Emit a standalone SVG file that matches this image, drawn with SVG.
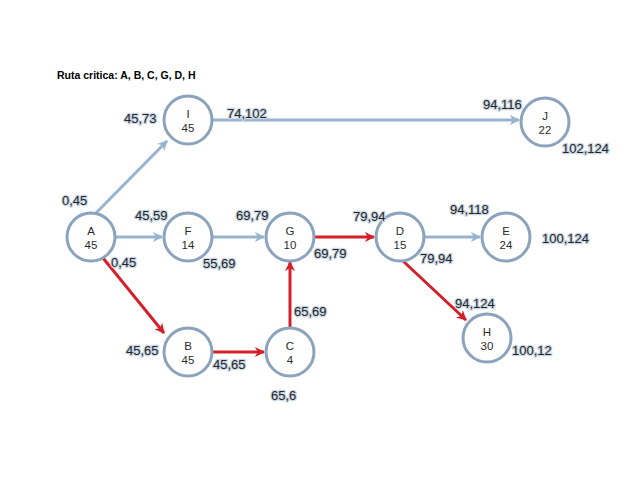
<svg xmlns="http://www.w3.org/2000/svg" width="638" height="493" viewBox="0 0 638 493">
<defs>
<marker id="ab" viewBox="0 0 10 10" refX="9" refY="5" markerWidth="3.4" markerHeight="3.4" orient="auto" markerUnits="strokeWidth">
<path d="M0,0 L10,5 L0,10 L3,5 Z" fill="#98b3ce"/>
</marker>
<marker id="ar" viewBox="0 0 10 10" refX="9" refY="5" markerWidth="3.4" markerHeight="3.4" orient="auto" markerUnits="strokeWidth">
<path d="M0,0 L10,5 L0,10 L3,5 Z" fill="#d4202a"/>
</marker>
</defs>
<style>
.bg{fill:#ffffff}
.n circle{fill:#ffffff;stroke:#8ba3bc;stroke-width:3}
.n text{font-family:"Liberation Sans",Arial,sans-serif;font-size:11.5px;fill:#2b2b2b;text-anchor:middle}
.lb{font-family:"Liberation Sans",Arial,sans-serif;font-size:13px;fill:#262626;stroke:#c9d6e4;stroke-width:2.5;paint-order:stroke;stroke-linejoin:round}
.title{font-family:"Liberation Sans",Arial,sans-serif;font-size:10.5px;font-weight:bold;fill:#000}
.eb{stroke:#98b3ce;stroke-width:3;fill:none;marker-end:url(#ab)}
.er{stroke:#d4202a;stroke-width:3;fill:none;marker-end:url(#ar)}
</style>
<rect class="bg" x="0" y="0" width="638" height="493"/>
<text class="title" x="57" y="79">Ruta critica: A, B, C, G, D, H</text>
<g id="connectors">
<line class="eb" x1="96" y1="213" x2="167" y2="141"/>
<line class="eb" x1="116" y1="237" x2="162" y2="237"/>
<line class="eb" x1="213" y1="237" x2="264" y2="237"/>
<line class="eb" x1="213" y1="120" x2="519" y2="120"/>
<line class="eb" x1="425" y1="237" x2="480" y2="237"/>
<line class="er" x1="103" y1="258" x2="164" y2="333"/>
<line class="er" x1="213" y1="352" x2="264" y2="352"/>
<line class="er" x1="290" y1="327" x2="290" y2="262"/>
<line class="er" x1="315" y1="237" x2="374" y2="237"/>
<line class="er" x1="403" y1="261" x2="466" y2="320"/>
</g>
<g id="node-A" class="n"><circle cx="91" cy="237" r="24"/><text x="91" y="235">A</text><text x="91" y="249">45</text></g>
<g id="node-I" class="n"><circle cx="188" cy="120" r="24"/><text x="188" y="118">I</text><text x="188" y="132">45</text></g>
<g id="node-F" class="n"><circle cx="188" cy="237" r="24"/><text x="188" y="235">F</text><text x="188" y="249">14</text></g>
<g id="node-G" class="n"><circle cx="290" cy="237" r="24"/><text x="290" y="235">G</text><text x="290" y="249">10</text></g>
<g id="node-B" class="n"><circle cx="188" cy="352" r="24"/><text x="188" y="350">B</text><text x="188" y="364">45</text></g>
<g id="node-C" class="n"><circle cx="290" cy="352" r="24"/><text x="290" y="350">C</text><text x="290" y="364">4</text></g>
<g id="node-D" class="n"><circle cx="400" cy="237" r="24"/><text x="400" y="235">D</text><text x="400" y="249">15</text></g>
<g id="node-E" class="n"><circle cx="506" cy="237" r="24"/><text x="506" y="235">E</text><text x="506" y="249">24</text></g>
<g id="node-J" class="n"><circle cx="545" cy="122" r="24"/><text x="545" y="120">J</text><text x="545" y="134">22</text></g>
<g id="node-H" class="n"><circle cx="487" cy="338" r="24"/><text x="487" y="336">H</text><text x="487" y="350">30</text></g>
<g id="labels">
<text class="lb" x="124" y="123">45,73</text>
<text class="lb" x="227" y="118">74,102</text>
<text class="lb" x="62" y="205">0,45</text>
<text class="lb" x="135" y="220">45,59</text>
<text class="lb" x="236" y="220">69,79</text>
<text class="lb" x="111" y="267">0,45</text>
<text class="lb" x="203" y="268">55,69</text>
<text class="lb" x="314" y="258">69,79</text>
<text class="lb" x="294" y="316">65,69</text>
<text class="lb" x="126" y="355">45,65</text>
<text class="lb" x="213" y="369">45,65</text>
<text class="lb" x="271" y="400">65,6</text>
<text class="lb" x="483" y="109">94,116</text>
<text class="lb" x="562" y="153">102,124</text>
<text class="lb" x="353" y="221">79,94</text>
<text class="lb" x="450" y="214">94,118</text>
<text class="lb" x="420" y="263">79,94</text>
<text class="lb" x="542" y="243">100,124</text>
<text class="lb" x="455" y="308">94,124</text>
<text class="lb" x="512" y="355">100,12</text>
</g>
</svg>
